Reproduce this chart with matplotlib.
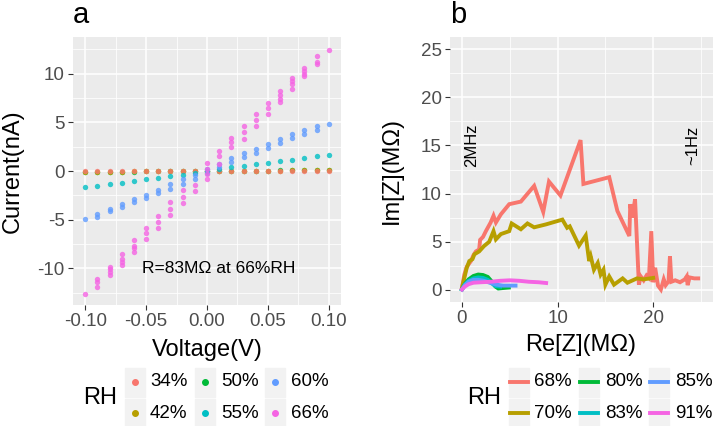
import matplotlib
matplotlib.use("Agg")
import matplotlib.pyplot as plt
from matplotlib.patches import Rectangle
from matplotlib.lines import Line2D

plt.rcParams["font.family"] = ["Liberation Sans", "DejaVu Sans"]

# ---- panel a: I-V sweeps at different relative humidity ----
voltage = [-0.10, -0.09, -0.08, -0.07, -0.06, -0.05, -0.04, -0.03, -0.02, -0.01,
           0.00, 0.01, 0.02, 0.03, 0.04, 0.05, 0.06, 0.07, 0.08, 0.09, 0.10]

# currents (nA) per voltage step, several sweeps per step
i_34 = [[-0.05], [-0.05], [-0.04], [-0.04], [-0.03], [-0.03], [-0.02], [-0.02], [-0.01], [-0.01],
        [0.0], [0.01], [0.01], [0.02], [0.02], [0.03], [0.03], [0.04], [0.04], [0.05], [0.05]]
i_42 = [[-0.08], [-0.07], [-0.06], [-0.06], [-0.05], [-0.04], [-0.03], [-0.02], [-0.02], [-0.01],
        [0.0], [0.01], [0.02], [0.02], [0.03], [0.04], [0.05], [0.06], [0.06], [0.07], [0.08]]
i_50 = [[-0.10], [-0.09], [-0.08], [-0.07], [-0.06], [-0.05], [-0.04], [-0.03], [-0.02], [-0.01],
        [0.0], [0.01], [0.02], [0.03], [0.04], [0.05], [0.06], [0.07], [0.08], [0.09], [0.10]]
i_55 = [[-1.67], [-1.55], [-1.35], [-1.2], [-1.05], [-0.85], [-0.7], [-0.5], [-0.38], [-0.25],
        [0.0], [0.2], [0.4], [0.55], [0.7], [0.85], [1.0], [1.15], [1.3], [1.5], [1.65]]
i_60 = [[-4.9], [-4.4, -4.7], [-3.9, -4.15], [-3.4, -3.7], [-2.9, -3.2], [-2.45, -2.75],
        [-1.9, -2.25], [-1.35, -1.8], [-0.85, -1.3], [-0.45, -0.85], [0.25, -0.25],
        [0.75, 0.4], [1.35, 0.9], [1.85, 1.4], [2.3, 1.85], [2.75, 2.4], [3.25, 2.9],
        [3.75, 3.35], [4.2, 3.8], [4.65, 4.25], [4.85]]
i_66 = [[-12.6], [-11.1, -11.4, -11.9], [-9.8, -10.1, -10.4, -10.7], [-8.5, -9.0, -9.3, -9.6],
        [-7.1, -7.7, -7.9, -8.3], [-5.9, -6.4, -7.0], [-4.6, -5.2, -5.8], [-3.2, -3.9, -4.5],
        [-2.0, -2.7, -3.3], [-1.4, -2.1], [0.8, 0.25, -0.3, -0.8], [2.1, 1.5, 0.75],
        [3.4, 3.0, 2.5], [4.6, 4.0, 3.3], [5.8, 5.2, 4.6], [7.0, 6.5, 5.9],
        [8.2, 7.75, 7.4, 7.1], [9.5, 9.2, 8.9, 8.4], [10.6, 10.3, 10.0, 9.7],
        [11.8, 11.2, 11.0], [12.4]]

rh_a = ["34%", "42%", "50%", "55%", "60%", "66%"]
colors_a = ["#F8766D", "#B79F00", "#00BA38", "#00BFC4", "#619CFF", "#F564E3"]

# ---- panel b: Nyquist plots (MOhm) ----
re_68 = [0, 0.25, 0.5, 0.94, 1.2, 1.46, 1.8, 1.9, 2.2, 2.5, 3.0, 3.3, 3.55, 4.07, 4.94, 6.16,
         7.55, 8.5, 9.1, 10.3, 12.4, 12.7, 15.4, 16.25, 17.5, 17.6, 17.8, 18.1, 18.5, 18.7,
         19.0, 19.3, 19.55, 19.8, 20.0, 20.2, 20.5, 20.8, 21.1, 21.3, 21.6, 21.75, 21.9,
         22.3, 22.8, 23.3, 23.5, 23.6, 23.8, 24.3, 24.7]
im_68 = [0.2, 1.6, 2.4, 3.0, 3.6, 4.0, 4.2, 5.2, 5.5, 6.1, 7.0, 7.7, 7.0, 7.85, 8.9, 9.17,
         10.8, 8.1, 11.25, 9.8, 15.55, 11.0, 11.7, 8.2, 5.6, 8.9, 7.5, 9.4, 0.55, 1.4,
         1.0, 1.5, 1.25, 6.1, 0.8, 2.3, 0.45, 0.05, 1.1, 0.5, 0.9, 3.5, 0.85,
         1.0, 0.8, 1.1, 1.4, 0.5, 1.3, 1.2, 1.2]
re_70 = [0, 0.25, 0.5, 0.77, 1.1, 1.3, 1.8, 2.3, 2.85, 3.3, 3.55, 4.07, 4.94, 5.2, 6.16,
         6.85, 7.55, 8.77, 10.5, 11.0, 11.27, 12.24, 12.94, 13.3, 13.46, 13.8, 14.2, 14.5,
         14.8, 15.0, 15.4, 15.9, 16.8, 17.3, 18.3, 19.0, 20.0]
im_70 = [0.2, 1.25, 2.3, 3.0, 3.2, 3.7, 4.0, 4.55, 5.0, 6.1, 5.25, 5.8, 6.1, 6.9, 6.3,
         6.9, 6.5, 6.8, 7.3, 6.45, 6.6, 4.6, 5.65, 3.0, 3.5, 2.1, 2.8, 1.6,
         2.1, 0.55, 1.4, 0.55, 1.2, 0.75, 1.2, 1.1, 1.25]
re_80 = [0, 0.3, 0.7, 1.2, 1.7, 2.2, 2.7, 3.1, 3.5, 3.8, 4.3, 4.9]
im_80 = [0.05, 0.6, 1.1, 1.45, 1.6, 1.55, 1.35, 0.9, 0.35, 0.15, 0.2, 0.25]
re_83 = [0, 0.3, 0.7, 1.2, 1.7, 2.2, 2.7, 3.1, 3.5, 4.0]
im_83 = [0.05, 0.55, 0.95, 1.2, 1.3, 1.25, 1.05, 0.7, 0.4, 0.35]
re_85 = [0, 0.3, 0.7, 1.2, 1.7, 2.3, 2.9, 3.6, 4.3, 5.0, 5.6]
im_85 = [0.05, 0.5, 0.85, 1.05, 1.05, 0.95, 0.75, 0.55, 0.45, 0.45, 0.45]
re_91 = [0, 0.3, 0.7, 1.2, 2.0, 3.0, 4.0, 5.0, 6.0, 7.0, 8.0, 8.8]
im_91 = [0.05, 0.35, 0.6, 0.75, 0.8, 0.85, 0.95, 1.0, 0.95, 0.85, 0.8, 0.72]

rh_b = ["68%", "70%", "80%", "83%", "85%", "91%"]
colors_b = ["#F8766D", "#B79F00", "#00BA38", "#00BFC4", "#619CFF", "#F564E3"]

W, H = 715, 426


def fx(px):
    return px / W


def fy(py):
    return 1 - py / H


def gg_axes(ax, xticks, xminor, yticks, yminor, xlabels, ylabels):
    """ggplot2 theme_gray look."""
    ax.set_facecolor("#EBEBEB")
    for s in ax.spines.values():
        s.set_visible(False)
    ax.set_xticks(xticks)
    ax.set_xticklabels(xlabels)
    ax.set_yticks(yticks)
    ax.set_yticklabels(ylabels)
    ax.set_xticks(xminor, minor=True)
    ax.set_yticks(yminor, minor=True)
    ax.grid(which="major", color="white", linewidth=1.1)
    ax.grid(which="minor", color="white", linewidth=0.55)
    ax.set_axisbelow(True)
    ax.tick_params(which="major", length=3.5, width=0.8, color="#333333",
                   labelcolor="#4D4D4D", labelsize=13.5, pad=2.5)
    ax.tick_params(which="minor", length=0)


def legend(fig, x0, labels, colors, kind):
    ymid = 398
    fig.text(fx(x0), fy(ymid), "RH", fontsize=17, ha="left", va="center")
    key_off = [42, 112, 182]
    text_off = [67, 138, 208]
    rows = [382, 413]
    for k, (lab, col) in enumerate(zip(labels, colors)):
        c, r = k // 2, k % 2
        kx = x0 + key_off[c]
        ky = rows[r]
        fig.patches.append(Rectangle((fx(kx), fy(ky + 14.5)), 20 / W, 29 / H,
                                     transform=fig.transFigure, color="#F2F2F2", zorder=0))
        if kind == "point":
            fig.lines.append(Line2D([fx(kx + 10)], [fy(ky)], marker="o", markersize=4,
                                    color=col, transform=fig.transFigure))
        else:
            fig.lines.append(Line2D([fx(kx + 1), fx(kx + 19)], [fy(ky), fy(ky)], lw=2.8,
                                    color=col, transform=fig.transFigure))
        fig.text(fx(x0 + text_off[c]), fy(ky), lab, fontsize=13.5, ha="left", va="center")


fig = plt.figure(figsize=(W / 100, H / 100), dpi=100)

# 1) panel a -- the near-zero series (50%, 42%, 34%) go first so 34% sits on top
ax1 = fig.add_axes([fx(73), fy(305), 268 / W, 268 / H])
series_a = [i_34, i_42, i_50, i_55, i_60, i_66]
draw_order = [2, 1, 0, 3, 4, 5]
for z, k in enumerate(draw_order):
    xs, ys = [], []
    for v, cs in zip(voltage, series_a[k]):
        xs += [v] * len(cs)
        ys += cs
    ax1.scatter(xs, ys, s=15, color=colors_a[k], alpha=0.8, linewidths=0, zorder=3 + z)
ax1.set_xlim(-0.11, 0.11)
ax1.set_ylim(-13.75, 13.75)
gg_axes(ax1, [-0.10, -0.05, 0.0, 0.05, 0.10], [-0.075, -0.025, 0.025, 0.075],
        [-10, -5, 0, 5, 10], [-12.5, -7.5, -2.5, 2.5, 7.5, 12.5],
        ["-0.10", "-0.05", "0.00", "0.05", "0.10"], ["-10", "-5", "0", "5", "10"])
ax1.text(0.01, -10, "R=83M\u03a9 at 66%RH", fontsize=12.5, ha="center", va="center")
fig.text(fx(73), fy(23), "a", fontsize=21, ha="left", va="baseline")
fig.text(fx(207), fy(350), "Voltage(V)", fontsize=17, ha="center", va="center")
fig.text(fx(13), fy(171), "Current(nA)", fontsize=17, ha="center", va="center", rotation=90)
legend(fig, 83, rh_a, colors_a, "point")

# 2) panel b
ax2 = fig.add_axes([fx(450), fy(302), 263 / W, 265 / H])
series_b = [(re_68, im_68), (re_70, im_70), (re_80, im_80),
            (re_83, im_83), (re_85, im_85), (re_91, im_91)]
for lab, col, (re, im) in zip(rh_b, colors_b, series_b):
    ax2.plot(re, im, color=col, lw=2.8, solid_joinstyle="miter", zorder=3)
ax2.set_xlim(-1.25, 26.25)
ax2.set_ylim(-1.25, 26.25)
gg_axes(ax2, [0, 10, 20], [5, 15, 25], [0, 5, 10, 15, 20, 25], [2.5, 7.5, 12.5, 17.5, 22.5],
        ["0", "10", "20"], ["0", "5", "10", "15", "20", "25"])
ax2.text(1.0, 15, "2MHz", fontsize=12, rotation=90, ha="center", va="center")
ax2.text(24.1, 15, "~1Hz", fontsize=12, rotation=90, ha="center", va="center")
fig.text(fx(450), fy(23), "b", fontsize=21, ha="left", va="baseline")
fig.text(fx(581), fy(345), "Re[Z](M\u03a9)", fontsize=17, ha="center", va="center")
fig.text(fx(392), fy(170), "Im[Z](M\u03a9)", fontsize=17, ha="center", va="center", rotation=90)
legend(fig, 467, rh_b, colors_b, "line")

fig.savefig("out.png", dpi=100)
